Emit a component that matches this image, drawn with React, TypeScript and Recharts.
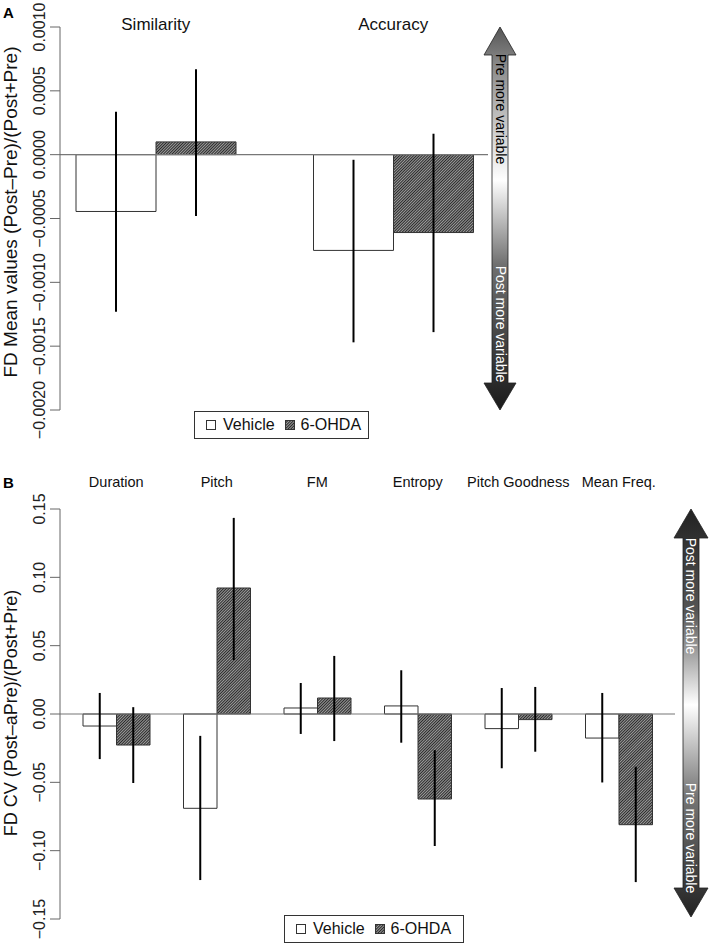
import React from "react"
import { BarChart, Bar, XAxis, YAxis, ErrorBar, ReferenceLine } from "recharts"

// Panel A: mean values
const CATEGORIES_A = ["Similarity", "Accuracy"]
const VEHICLE_A = [-0.000445, -0.00075]
const OHDA_A = [0.0001, -0.00061]
const VEHICLE_A_LOW = [-0.00123, -0.00147]
const VEHICLE_A_HIGH = [0.000336, -0.00004]
const OHDA_A_LOW = [-0.00048, -0.00139]
const OHDA_A_HIGH = [0.00067, 0.000164]
const TICKS_A = [-0.002, -0.0015, -0.001, -0.0005, 0, 0.0005, 0.001]

// Panel B: CV
const CATEGORIES_B = ["Duration", "Pitch", "FM", "Entropy", "Pitch Goodness", "Mean Freq."]
const VEHICLE_B = [-0.0088, -0.069, 0.0044, 0.0059, -0.0107, -0.0176]
const OHDA_B = [-0.0227, 0.0922, 0.0117, -0.0622, -0.0041, -0.081]
const VEHICLE_B_LOW = [-0.033, -0.1215, -0.0146, -0.021, -0.0397, -0.0501]
const VEHICLE_B_HIGH = [0.0154, -0.016, 0.0227, 0.032, 0.019, 0.0154]
const OHDA_B_LOW = [-0.0505, 0.0395, -0.0198, -0.0966, -0.0276, -0.123]
const OHDA_B_HIGH = [0.005, 0.1435, 0.0425, -0.0264, 0.0198, -0.0386]
const TICKS_B = [-0.15, -0.1, -0.05, 0, 0.05, 0.1, 0.15]

const FONT = "'Liberation Sans', Arial, Helvetica, sans-serif"
const AXIS_COLOR = "#666"

const build = (cats: string[], v: number[], o: number[], vl: number[], vh: number[], ol: number[], oh: number[]) =>
  cats.map((name, i) => ({
    name,
    vehicle: v[i],
    ohda: o[i],
    vErr: [v[i] - vl[i], vh[i] - v[i]],
    oErr: [o[i] - ol[i], oh[i] - o[i]],
  }))

const dataA = build(CATEGORIES_A, VEHICLE_A, OHDA_A, VEHICLE_A_LOW, VEHICLE_A_HIGH, OHDA_A_LOW, OHDA_A_HIGH)
const dataB = build(CATEGORIES_B, VEHICLE_B, OHDA_B, VEHICLE_B_LOW, VEHICLE_B_HIGH, OHDA_B_LOW, OHDA_B_HIGH)

const minus = (s: string) => s.replace("-", "\u2212")

function RotTick({ x, y, payload, digits }: any) {
  const tx = x - 3
  return (
    <text x={tx} y={y} transform={`rotate(-90 ${tx} ${y})`} textAnchor="middle" fontSize={16} fill="#222" fontFamily={FONT}>
      {minus(Number(payload.value).toFixed(digits))}
    </text>
  )
}

function TopTick({ x, payload, baseY, size }: any) {
  return (
    <text x={x} y={baseY} textAnchor="middle" fontSize={size} fill="#111" fontFamily={FONT}>
      {payload.value}
    </text>
  )
}

function Swatch({ hatched }: { hatched?: boolean }) {
  return (
    <svg width={10} height={10} style={{ display: "block" }}>
      <rect x={0.5} y={0.5} width={9} height={9} fill={hatched ? "url(#hatch)" : "#fff"} stroke="#333" />
    </svg>
  )
}

function LegendBox({ left, top, width }: { left: number; top: number; width: number }) {
  return (
    <div
      style={{
        position: "absolute",
        left,
        top,
        width,
        height: 28,
        boxSizing: "border-box",
        border: "1px solid #333",
        display: "flex",
        alignItems: "center",
        paddingLeft: 11,
        fontFamily: FONT,
        fontSize: 16,
        color: "#111",
      }}
    >
      <Swatch />
      <span style={{ marginLeft: 7 }}>Vehicle</span>
      <span style={{ marginLeft: 10 }}>
        <Swatch hatched />
      </span>
      <span style={{ marginLeft: 6 }}>6-OHDA</span>
    </div>
  )
}

export default function App() {
  return (
    <div style={{ position: "absolute", left: 0, top: 0, width: 709, height: 951, background: "#fff", fontFamily: FONT }}>
      <svg width={0} height={0} style={{ position: "absolute" }}>
        <defs>
          <pattern id="hatch" width={2} height={2} patternUnits="userSpaceOnUse" patternTransform="rotate(45)">
            <rect width={2} height={2} fill="#a8a8a8" />
            <line x1={0} y1={0} x2={0} y2={2} stroke="#2a2a2a" strokeWidth={2.2} />
          </pattern>
          <linearGradient id="gradA" x1={0} y1={0} x2={0} y2={1}>
            <stop offset="0" stopColor="#555" />
            <stop offset="0.1" stopColor="#8a8a8a" />
            <stop offset="0.4" stopColor="#fff" />
            <stop offset="0.62" stopColor="#707070" />
            <stop offset="1" stopColor="#1a1a1a" />
          </linearGradient>
          <linearGradient id="gradB" x1={0} y1={0} x2={0} y2={1}>
            <stop offset="0" stopColor="#222" />
            <stop offset="0.25" stopColor="#555" />
            <stop offset="0.48" stopColor="#fff" />
            <stop offset="0.7" stopColor="#777" />
            <stop offset="1" stopColor="#222" />
          </linearGradient>
        </defs>
      </svg>

      {/* Panel A */}
      <div style={{ position: "absolute", left: 0, top: 0 }}>
        <BarChart width={709} height={455} data={dataA} margin={{ top: 0, right: 221, bottom: 45, left: 0 }} barGap={0}>
          <XAxis
            dataKey="name"
            orientation="top"
            height={27}
            axisLine={false}
            tickLine={false}
            interval={0}
            padding={{ left: -23, right: -24 }}
            tick={<TopTick baseY={30} size={17} />}
          />
          <YAxis
            width={60}
            domain={[-0.002, 0.001]}
            ticks={TICKS_A}
            allowDataOverflow
            stroke={AXIS_COLOR}
            tickSize={10}
            tick={<RotTick digits={4} />}
          />
          <ReferenceLine y={0} stroke="#777" strokeWidth={1.2} />
          <Bar dataKey="vehicle" fill="#fff" stroke="#333" strokeWidth={1} barSize={80} isAnimationActive={false}>
            <ErrorBar dataKey="vErr" width={0} stroke="#000" strokeWidth={2} direction="y" isAnimationActive={false} />
          </Bar>
          <Bar dataKey="ohda" fill="url(#hatch)" stroke="#333" strokeWidth={1} barSize={80} isAnimationActive={false}>
            <ErrorBar dataKey="oErr" width={0} stroke="#000" strokeWidth={2} direction="y" isAnimationActive={false} />
          </Bar>
        </BarChart>
      </div>

      {/* Panel B */}
      <div style={{ position: "absolute", left: 0, top: 455 }}>
        <BarChart width={709} height={496} data={dataB} margin={{ top: 0, right: 34, bottom: 32, left: 0 }} barGap={0}>
          <XAxis
            dataKey="name"
            orientation="top"
            height={54}
            axisLine={false}
            tickLine={false}
            interval={0}
            padding={{ left: 6, right: 6 }}
            tick={<TopTick baseY={32} size={14.5} />}
          />
          <YAxis
            width={60}
            domain={[-0.15, 0.15]}
            ticks={TICKS_B}
            allowDataOverflow
            stroke={AXIS_COLOR}
            tickSize={10}
            tick={<RotTick digits={2} />}
          />
          <ReferenceLine y={0} stroke="#777" strokeWidth={1.2} />
          <Bar dataKey="vehicle" fill="#fff" stroke="#333" strokeWidth={1} barSize={33.5} isAnimationActive={false}>
            <ErrorBar dataKey="vErr" width={0} stroke="#000" strokeWidth={2} direction="y" isAnimationActive={false} />
          </Bar>
          <Bar dataKey="ohda" fill="url(#hatch)" stroke="#333" strokeWidth={1} barSize={33.5} isAnimationActive={false}>
            <ErrorBar dataKey="oErr" width={0} stroke="#000" strokeWidth={2} direction="y" isAnimationActive={false} />
          </Bar>
        </BarChart>
      </div>

      <LegendBox left={194} top={411} width={175} />
      <LegendBox left={284} top={915} width={180} />

      {/* titles, panel letters and the variability arrows */}
      <svg width={709} height={951} style={{ position: "absolute", left: 0, top: 0, pointerEvents: "none" }} fontFamily={FONT}>
        <text x={3} y={18} fontSize={15} fontWeight="bold" fill="#000">A</text>
        <text x={3} y={488} fontSize={15} fontWeight="bold" fill="#000">B</text>

        <text x={17} y={212} transform="rotate(-90 17 212)" textAnchor="middle" fontSize={19} fill="#111">
          FD Mean values (Post–Pre)/(Post+Pre)
        </text>
        <text x={17} y={713} transform="rotate(-90 17 713)" textAnchor="middle" fontSize={18} fill="#111">
          FD CV (Post–aPre)/(Post+Pre)
        </text>

        <polygon
          points="500,27 516,55 508,55 508,383 516,383 500,410 484,383 492,383 492,55 484,55"
          fill="url(#gradA)"
          stroke="#222"
          strokeWidth={0.8}
        />
        <text x={496} y={109} transform="rotate(90 496 109)" textAnchor="middle" fontSize={14} fill="#000">
          Pre more variable
        </text>
        <text x={496} y={324} transform="rotate(90 496 324)" textAnchor="middle" fontSize={14} fill="#fff">
          Post more variable
        </text>

        <polygon
          points="691,509 708,538 699,538 699,888 708,888 691,917 674,888 683,888 683,538 674,538"
          fill="url(#gradB)"
          stroke="#222"
          strokeWidth={0.8}
        />
        <text x={686} y={596} transform="rotate(90 686 596)" textAnchor="middle" fontSize={14} fill="#fff">
          Post more variable
        </text>
        <text x={686} y={838} transform="rotate(90 686 838)" textAnchor="middle" fontSize={14} fill="#fff">
          Pre more variable
        </text>
      </svg>
    </div>
  )
}
